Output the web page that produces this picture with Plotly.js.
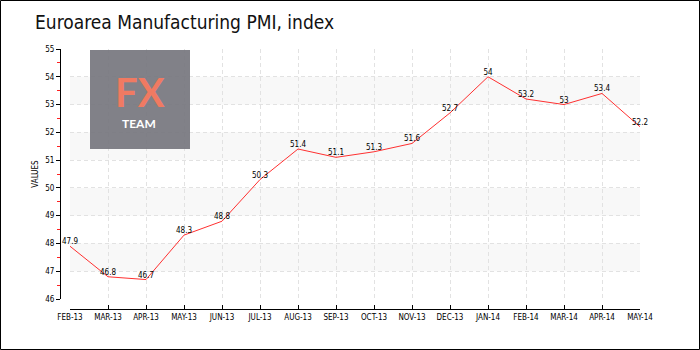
<!DOCTYPE html>
<html><head><meta charset="utf-8">
<script src="https://cdn.plot.ly/plotly-3.0.1.min.js"></script>
<style>body{margin:0;background:#fff}#c{width:700px;height:350px}</style>
</head><body><div id="c"></div>
<script>
const months = ["FEB-13","MAR-13","APR-13","MAY-13","JUN-13","JUL-13","AUG-13","SEP-13","OCT-13","NOV-13","DEC-13","JAN-14","FEB-14","MAR-14","APR-14","MAY-14"];
const pmi = [47.9,46.8,46.7,48.3,48.8,50.3,51.4,51.1,51.3,51.6,52.7,54,53.2,53,53.4,52.2];
const bandStarts = [47,49,51,53];

const W=580,H=260,L=60,T=49;
const px=v=>(v-L)/W, py=v=>(T+H-v)/H;

const shapes = bandStarts.map(b=>({type:'rect',xref:'x domain',yref:'y',x0:0,x1:1,y0:b,y1:b+1,fillcolor:'#f8f8f8',line:{width:0},layer:'below'}));
shapes.push({type:'rect',xref:'paper',yref:'paper',x0:px(90),x1:px(190),y0:py(149),y1:py(50),fillcolor:'rgba(119,119,127,0.93)',line:{width:0},layer:'above'});
shapes.push({type:'rect',xref:'paper',yref:'paper',x0:px(0.5),x1:px(699.5),y0:py(349.5),y1:py(0.5),line:{color:'#000',width:1},fillcolor:'rgba(0,0,0,0)'});

const layout = {
  width:700,height:350,
  margin:{l:L,r:60,t:T,b:350-T-H},
  paper_bgcolor:'#fff',plot_bgcolor:'rgba(0,0,0,0)',
  showlegend:false,
  title:{text:'Euroarea Manufacturing PMI, index',x:35/700,xanchor:'left',y:1-22/350,yanchor:'middle',font:{family:'DejaVu Sans Condensed',size:19,color:'#111'}},
  xaxis:{type:'category',domain:[10/W,1],anchor:'free',position:0,range:[0,15],
    showline:true,linecolor:'#000',linewidth:1,ticks:'inside',ticklen:4,tickcolor:'#000',
    showgrid:true,gridcolor:'#e2e2e2',griddash:'4px,3px',gridwidth:1,zeroline:false,
    tickfont:{family:'DejaVu Sans Condensed',size:8,color:'#000'},tickangle:0,fixedrange:true},
  yaxis:{domain:[10/H,1],anchor:'free',position:0,range:[46,55],dtick:1,
    showline:true,linecolor:'#000',linewidth:1,ticks:'outside',ticklen:4,tickcolor:'#000',
    minor:{dtick:0.5,ticks:'outside',ticklen:3,tickcolor:'#ff2020',showgrid:false},
    showgrid:true,gridcolor:'#e2e2e2',griddash:'4px,3px',gridwidth:1,zeroline:false,
    tickfont:{family:'DejaVu Sans Condensed',size:8,color:'#000'},
    title:{text:'VALUES',standoff:4,font:{family:'DejaVu Sans Condensed',size:8,color:'#000'}}},
  shapes:shapes,
  annotations:[
    {xref:'paper',yref:'paper',x:px(140),y:py(91.5),text:'FX',showarrow:false,xanchor:'center',yanchor:'middle',borderpad:0,font:{family:'Lato',size:40,weight:700,color:'#f07a62'}},
    {xref:'paper',yref:'paper',x:px(139),y:py(123.4),text:'TEAM',showarrow:false,xanchor:'center',yanchor:'middle',borderpad:0,font:{family:'Lato',size:12,weight:700,color:'#ffffff'}}
  ]
};
const data=[{x:months,y:pmi,type:'scatter',mode:'lines+text',text:pmi.map(String),textposition:'top center',
  textfont:{family:'DejaVu Sans Condensed',size:8,color:'#000'},line:{color:'#ff3030',width:1},cliponaxis:false,hoverinfo:'none'}];
Plotly.newPlot('c',data,layout,{displayModeBar:false,staticPlot:true});
</script></body></html>
